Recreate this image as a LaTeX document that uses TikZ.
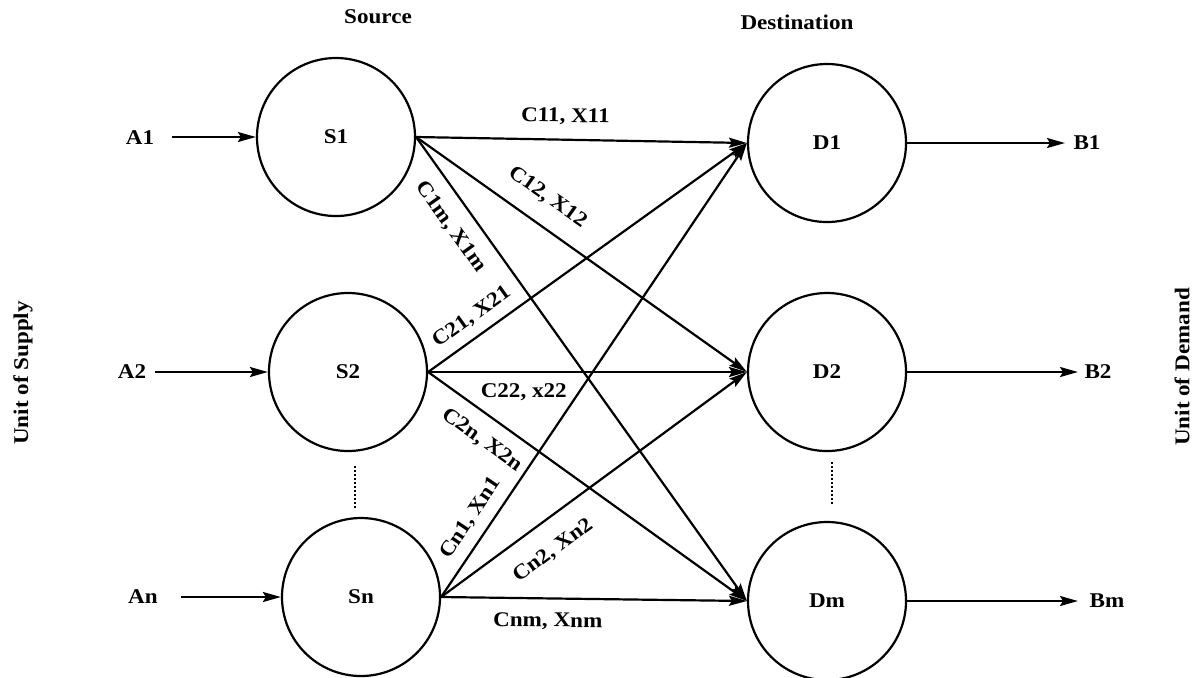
\documentclass[tikz,border=0pt]{standalone}
\usepackage{fontspec}
\setmainfont{Liberation Serif}[FakeStretch=1.1]
\usetikzlibrary{arrows.meta}
\begin{document}
\begin{tikzpicture}[x=0.5pt,y=-0.5pt,
  every node/.style={font=\fontsize{10.5}{12}\selectfont\bfseries},
  circ/.style={draw, circle, line width=1.1pt, minimum size=79pt, inner sep=0pt},
  arr/.style={line width=1.1pt, -{Stealth[length=9pt,width=5pt,inset=1.5pt]}},
  lab/.style={sloped, inner sep=0pt, anchor=center},
  dots/.style={line width=1pt, densely dotted}
]
\useasboundingbox (0,0) rectangle (1198,677);

% headings
\node (src) at (378,17) {Source};
\node (dst) at (797,22) {Destination};
\node[rotate=90] (sup) at (23,373) {Unit of Supply};
\node[rotate=90] (dem) at (1182,367) {Unit of Demand};

% nodes
\node[circ] (S1) at (336,137) {S1};
\node[circ] (S2) at (348,372) {S2};
\node[circ] (Sn) at (361,597) {Sn};
\node[circ] (D1) at (827,143) {D1};
\node[circ] (D2) at (827,372) {D2};
\node[circ] (Dm) at (827,601) {Dm};

\node (A1) at (140,138) {A1};
\node (A2) at (132,372) {A2};
\node (An) at (143,597) {An};
\node (B1) at (1087,143) {B1};
\node (B2) at (1098,372) {B2};
\node (Bm) at (1107,601) {Bm};

% supply / demand arrows
\draw[arr] ([xshift=16pt,yshift=0.5pt]A1.center) -- (S1.west);
\draw[arr] ([xshift=11.5pt]A2.center) -- (S2.west);
\draw[arr] ([xshift=19pt]An.center) -- (Sn.west);
\draw[arr] (D1.east) -- ([xshift=-11pt]B1.center);
\draw[arr] (D2.east) -- ([xshift=-10pt]B2.center);
\draw[arr] (Dm.east) -- ([xshift=-14.5pt]Bm.center);

% transport links
\draw[arr] (S1.east) -- node[lab, pos=0.45, yshift=11.5pt] {C11, X11} (D1.west);
\draw[arr] (S1.east) -- node[lab, pos=0.35, yshift=13.5pt] {C12, X12} (D2.west);
\draw[arr] (S1.east) -- node[lab, pos=0.164, yshift=-12pt] {C1m, X1m} (Dm.west);
\draw[arr] (S2.east) -- node[lab, pos=0.172, yshift=9.6pt] {C21, X21} (D1.west);
\draw[arr] (S2.east) -- node[lab, pos=0.30, yshift=-10pt] {C22, x22} (D2.west);
\draw[arr] (S2.east) -- node[lab, pos=0.212, yshift=-12pt] {C2n, X2n} (Dm.west);
\draw[arr] (Sn.east) -- node[lab, pos=0.15, yshift=9.75pt] {Cn1, Xn1} (D1.west);
\draw[arr] (Sn.east) -- node[lab, pos=0.31, yshift=-14.5pt] {Cn2, Xn2} (D2.west);
\draw[arr] (Sn.east) -- node[lab, pos=0.35, yshift=-11.5pt] {Cnm, Xnm} (Dm.west);

% ellipsis dots
\draw[dots] (355,466) -- (355,510);
\draw[dots] (832,462) -- (832,505);
\end{tikzpicture}
\end{document}
